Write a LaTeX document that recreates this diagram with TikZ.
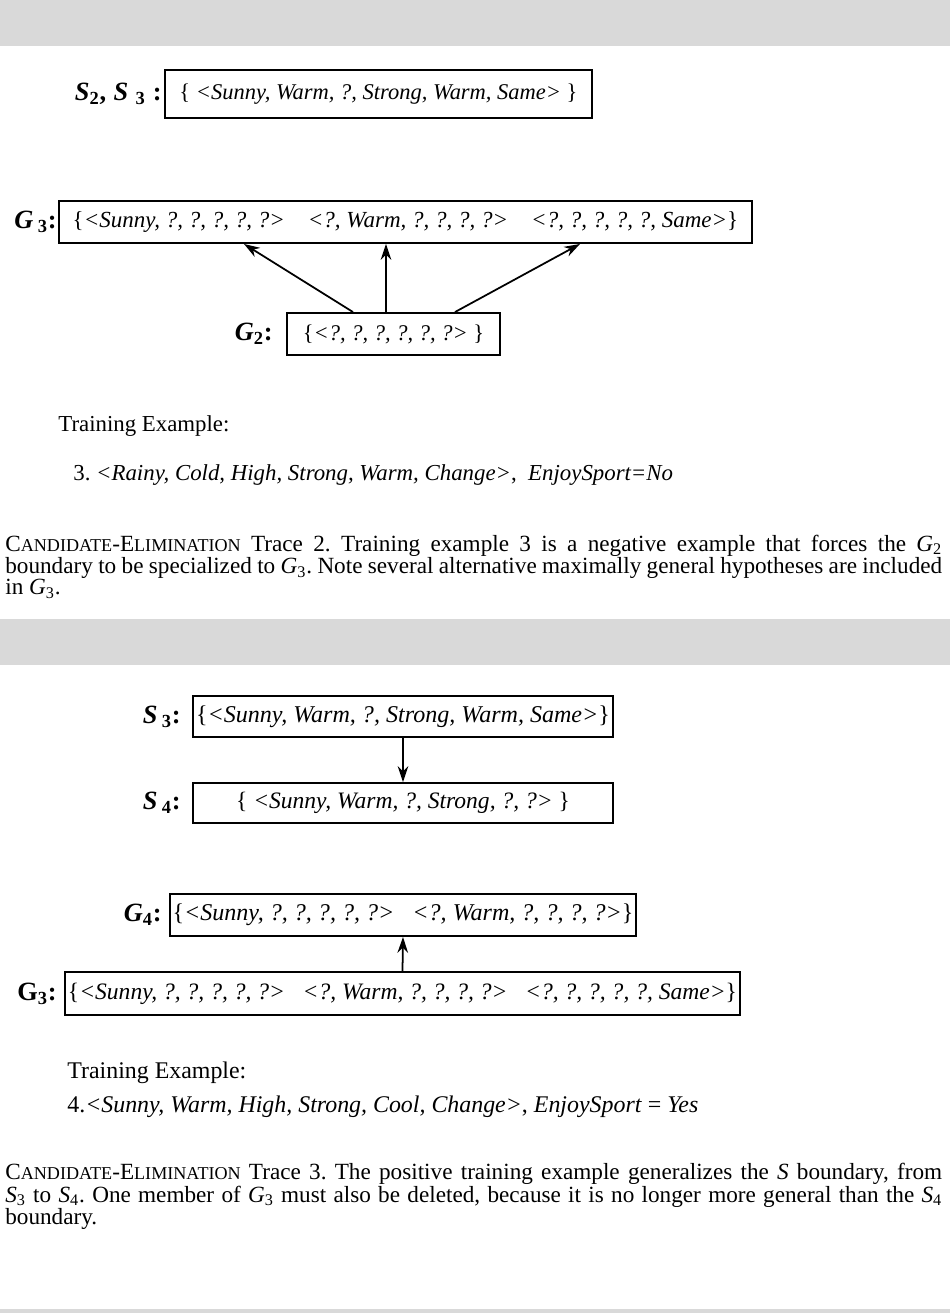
\documentclass[tikz,border=0pt]{standalone}
\usepackage{fontspec}
\setmainfont{Liberation Serif}
\usetikzlibrary{arrows.meta, positioning}
\setlength{\lineskiplimit}{-10pt}
\frenchspacing
\newcommand{\kecil}[1]{{\fontsize{10.3}{12}\selectfont #1}}
\newcommand{\hipo}[2]{\textit{#1}\textsubscript{#2}}
\newcommand{\kbuka}{{\upshape\{}}
\newcommand{\ktutup}{{\upshape\}}}
\newcommand{\sub}[1]{\textsubscript{\upshape #1}}
\tikzset{
  kotak/.style={rectangle, draw, line width=1.1pt, inner sep=0pt, align=center,
    font=\fontsize{#1}{15}\selectfont\itshape},
  kotak/.default=12.8,
  nama/.style={inner sep=0pt, font=\fontsize{15}{17}\selectfont\bfseries\itshape},
  teks/.style={inner sep=0pt, anchor=base west, font=\fontsize{#1}{15}\selectfont},
  teks/.default=13,
  keterangan/.style={inner sep=0pt, anchor=base west, text width=18.74cm,
    align=justify, font=\fontsize{#1}{11.8}\selectfont},
  keterangan/.default=13.2,
  panah/.style={-{Stealth[length=9pt, width=6pt]}, line width=1pt},
  pita/.style={fill=black!15, draw=none}
}

\begin{document}
\begin{tikzpicture}[x=0.02cm, y=-0.02cm]
  \useasboundingbox (0,0) rectangle (950,1313);
  \fill[pita] (0,0) rectangle (950,46);
  \fill[pita] (0,619) rectangle (950,665);
  \fill[pita] (0,1309) rectangle (950,1313);

  % trace 2
  \node[kotak, minimum width=8.54cm, minimum height=0.96cm] (s23) at (378.5,94)
    {\kbuka\ <Sunny, Warm, ?, Strong, Warm, Same> \ktutup};
  \node[kotak=13.1, minimum width=13.86cm, minimum height=0.84cm] (g3a) at (405.5,222)
    {\kbuka<Sunny, ?, ?, ?, ?, ?>\quad <?, Warm, ?, ?, ?, ?>\quad <?, ?, ?, ?, ?, Same>\ktutup};
  \node[kotak, minimum width=4.26cm, minimum height=0.84cm] (g2) at (393.5,334)
    {\kbuka<?, ?, ?, ?, ?, ?> \ktutup};
  \node[nama, left=0.04cm of s23] (ls23) {S\sub{2}{\upshape,}\;S\;\sub{3}\;{\upshape:}};
  \node[nama, left=0.02cm of g3a] (lg3a) {G\,\sub{3}{\upshape:}};
  \node[nama, left=0.26cm of g2] (lg2) {G\sub{2}{\upshape:}};
  \draw[panah] (353,0 |- g2.north) -- (244,0 |- g3a.south);
  \draw[panah] (386,0 |- g2.north) -- (386,0 |- g3a.south);
  \draw[panah] (455,0 |- g2.north) -- (580,0 |- g3a.south);

  \node[teks] (lat2) at (58,431) {Training Example:};
  \node[teks] (ex3) at (73,480)
    {3. \textit{<Rainy, Cold, High, Strong, Warm, Change>},\enspace\textit{EnjoySport=No}};
  \node[keterangan] (cap2) at (5,551)
    {C\kecil{ANDIDATE}-E\kecil{LIMINATION} Trace 2. Training example 3 is a negative
    example that forces the \hipo{G}{2}\linebreak boundary to be specialized to \hipo{G}{3}.
    Note several alternative maximally general hypotheses are included\linebreak
    in \hipo{G}{3}.};

  % trace 3
  \node[kotak=13.7, minimum width=8.4cm, minimum height=0.82cm] (s3) at (403,716.5)
    {\kbuka<Sunny, Warm, ?, Strong, Warm, Same>\ktutup};
  \node[kotak=13.4, minimum width=8.4cm, minimum height=0.8cm] (s4) at (403,803)
    {\kbuka\ <Sunny, Warm, ?, Strong, ?, ?> \ktutup};
  \node[kotak=13.7, minimum width=9.32cm, minimum height=0.84cm] (g4) at (403,915)
    {\kbuka<Sunny, ?, ?, ?, ?, ?>\enspace\ <?, Warm, ?, ?, ?, ?>\ktutup};
  \node[kotak=13.4, minimum width=13.5cm, minimum height=0.86cm] (g3b) at (402.5,993.5)
    {\kbuka<Sunny, ?, ?, ?, ?, ?>\enspace\ <?, Warm, ?, ?, ?, ?>\enspace\ <?, ?, ?, ?, ?, Same>\ktutup};
  \node[nama, left=0.22cm of s3] (ls3) {S\,\sub{3}{\upshape:}};
  \node[nama, left=0.22cm of s4] (ls4) {S\,\sub{4}{\upshape:}};
  \node[nama, left=0.14cm of g4] (lg4) {G\sub{4}{\upshape:}};
  \node[nama, left=0.14cm of g3b] (lg3b) {\upshape G\sub{3}:};
  \draw[panah] (s3.south) -- (s4.north);
  \draw[panah] (g3b.north) -- (g4.south);

  \node[teks=13.6] (lat3) at (67,1078) {Training Example:};
  \node[teks=13.6] (ex4) at (67,1112)
    {4.\textit{<Sunny, Warm, High, Strong, Cool, Change>}, \textit{EnjoySport} = \textit{Yes}};
  \node[keterangan=13.2] (cap3) at (5,1179)
    {C\kecil{ANDIDATE}-E\kecil{LIMINATION} Trace 3. The positive training example
    generalizes the \textit{S} boundary, from\linebreak \hipo{S}{3} to \hipo{S}{4}. One member
    of \hipo{G}{3} must also be deleted, because it is no longer more general than the
    \hipo{S}{4}\linebreak boundary.};
\end{tikzpicture}
\end{document}
